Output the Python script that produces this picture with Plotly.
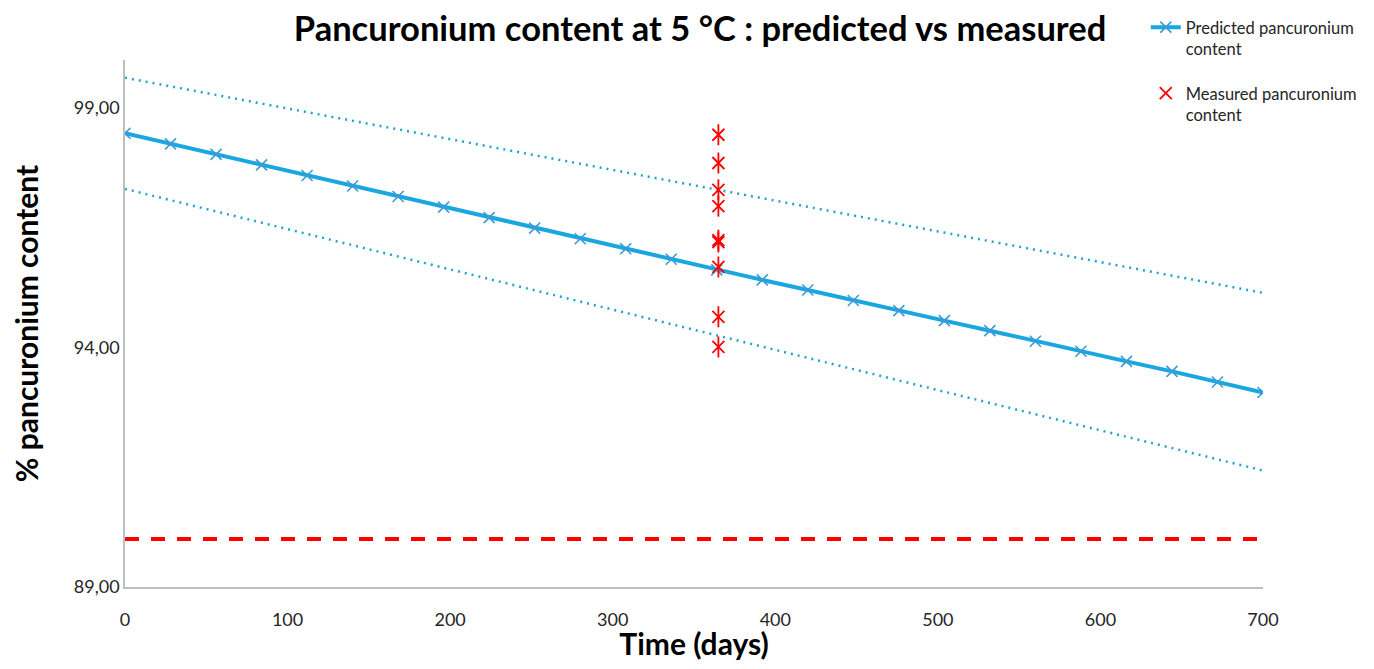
import plotly.graph_objects as go

# ---- data ----
days = [0, 28, 56, 84, 112, 140, 168, 196, 224, 252, 280, 308, 336, 364,
        392, 420, 448, 476, 504, 532, 560, 588, 616, 644, 672, 700]
predicted = [98.47, 98.25, 98.03, 97.81, 97.59, 97.37, 97.15, 96.93, 96.71,
             96.49, 96.27, 96.06, 95.84, 95.62, 95.41, 95.20, 94.98, 94.77,
             94.56, 94.35, 94.13, 93.92, 93.71, 93.50, 93.28, 93.06]
band_x = [0, 700]
upper_band = [99.63, 95.14]
lower_band = [97.31, 91.43]
limit_x = [0, 700]
limit_y = [90.0, 90.0]
measured_x = [365, 365, 365, 365, 365, 365, 365, 365, 365]
measured_y = [98.44, 97.85, 97.29, 96.95, 96.24, 96.20, 95.68, 94.64, 94.01]
y_ticks = [89, 94, 99]
x_ticks = [0, 100, 200, 300, 400, 500, 600, 700]

BLUE = "#1aa7e0"
DOT = "#22a3cf"
RED = "#ff0000"
FONT = "Lato"

fig = go.Figure()
fig.add_trace(go.Scatter(x=band_x, y=upper_band, mode="lines",
                         line=dict(color=DOT, width=2.5, dash="2px,5px"),
                         showlegend=False, hoverinfo="skip"))
fig.add_trace(go.Scatter(x=band_x, y=lower_band, mode="lines",
                         line=dict(color=DOT, width=2.5, dash="2px,5px"),
                         showlegend=False, hoverinfo="skip"))
fig.add_trace(go.Scatter(x=limit_x, y=limit_y, mode="lines",
                         line=dict(color=RED, width=4, dash="14px,12px"),
                         showlegend=False, hoverinfo="skip"))
fig.add_trace(go.Scatter(x=days, y=predicted, mode="lines+markers",
                         name="Predicted pancuronium<br>content",
                         legendgroup="a",
                         line=dict(color=BLUE, width=4),
                         marker=dict(symbol="x-thin", size=11, color="#3e9ad4",
                                     line=dict(color="#3e9ad4", width=1.6))))
fig.add_trace(go.Scatter(x=measured_x, y=measured_y, mode="markers",
                         name="Measured pancuronium<br>content",
                         legendgroup="b",
                         marker=dict(symbol="x-thin-open", size=12, color=RED,
                                     line=dict(color=RED, width=1.8))))
fig.add_trace(go.Scatter(x=measured_x, y=measured_y, mode="markers",
                         legendgroup="b", showlegend=False, hoverinfo="skip",
                         marker=dict(symbol="line-ns-open", size=15, color=RED,
                                     line=dict(color=RED, width=1.8))))

fig.update_layout(
    width=1358, height=653,
    paper_bgcolor="white", plot_bgcolor="white",
    margin=dict(l=117, r=103, t=52, b=74, autoexpand=False),
    separators=",.",
    font=dict(family=FONT, color="#262626"),
    title=dict(text="<b>Pancuronium content at 5 °C : predicted vs measured</b>",
               x=0.5096, xanchor="center", y=0.9678, yanchor="middle",
               font=dict(size=34.5, color="#000000", family=FONT)),
    legend=dict(x=0.897, y=1.095, xanchor="left", yanchor="top",
                font=dict(size=16.5, color="#262626", family=FONT),
                valign="top", traceorder="grouped", tracegroupgap=20,
                bgcolor="rgba(0,0,0,0)"),
    showlegend=True,
)
fig.update_xaxes(range=[0, 700], tickvals=x_ticks, showgrid=False,
                 zeroline=False, showline=True, linecolor="#bfbfbf",
                 linewidth=1.5, ticks="", ticklen=0, automargin=False,
                 ticklabelstandoff=16,
                 tickfont=dict(size=18, color="#262626"),
                 title=dict(text="<b>Time (days)</b>", standoff=16,
                            font=dict(size=30, color="#000000")))
fig.update_yaxes(range=[89, 100], tickvals=y_ticks, tickformat=".2f",
                 showgrid=False, zeroline=False, showline=True,
                 linecolor="#bfbfbf", linewidth=1.5, ticks="", automargin=False,
                 tickfont=dict(size=18, color="#262626"),
                 title=dict(text="<b>% pancuronium content</b>", standoff=30,
                            font=dict(size=30, color="#000000")))

fig.write_html("out.html")
